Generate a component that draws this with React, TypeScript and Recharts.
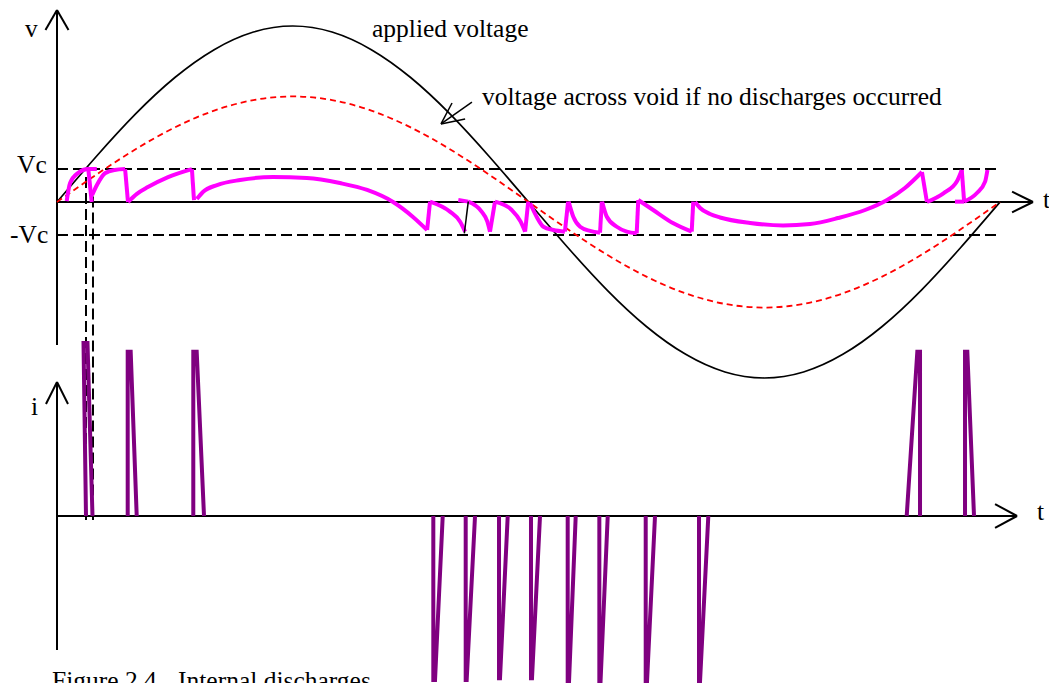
import { ComposedChart, Line, XAxis, YAxis, ReferenceLine } from 'recharts';

const W = 1049;
const H = 683;

// phase angle of the applied voltage, degrees
const PHASE = [0, 15, 30, 45, 60, 75, 90, 105, 120, 135, 150, 165, 180, 195, 210, 225, 240, 255, 270, 285, 300, 315, 330, 345, 360];
const APPLIED_V = [0, 25.0, 48.4, 68.4, 83.7, 93.4, 96.7, 93.4, 83.7, 68.4, 48.4, 25.0, 0, -25.0, -48.4, -68.4, -83.7, -93.4, -96.7, -93.4, -83.7, -68.4, -48.4, -25.0, 0];
const VOID_NO_DISCHARGE = [0, 15.0, 29.0, 41.0, 50.2, 56.0, 58.0, 56.0, 50.2, 41.0, 29.0, 15.0, 0, -15.0, -29.0, -41.0, -50.2, -56.0, -58.0, -56.0, -50.2, -41.0, -29.0, -15.0, 0];
const VC = 18.1;

// void voltage between discharges, [deg, v]
const VOID_ARCS = [
  [[3.7, 0.5], [5.0, 10.4], [8.0, 15.9], [11.8, 18.1], [15.2, 18.1]],
  [[13.4, 3.8], [15.3, 9.5], [18.3, 15.8], [22.0, 17.6], [26.0, 18.1]],
  [[27.1, 0], [30.5, 4.5], [34.7, 8.2], [42.4, 13.7], [51.5, 18.1]],
  [[53.4, 1.6], [55.7, 5.5], [61.1, 9.3], [69.9, 12.1], [82.5, 13.7], [95.4, 13.2], [108.0, 10.4], [118.4, 6.6], [128.3, 0], [135.9, -8.2], [141.3, -15.4]],
  [[142.4, 0.2], [150.0, -5.3], [153.9, -10.8], [155.8, -16.3]],
  [[157.0, 0.2], [162.1, -5.3], [164.3, -10.8], [165.3, -16.3]],
  [[167.2, 0.2], [173.6, -4.4], [177.0, -10.8], [178.7, -16.3]],
  [[180.6, -0.7], [183.1, -8.1], [185.7, -13.6], [189.5, -15.4], [193.9, -16.3]],
  [[195.3, 0.2], [197.1, -8.1], [199.7, -13.6], [203.5, -15.9], [207.3, -16.9]],
  [[208.1, 0.2], [209.9, -8.1], [213.7, -13.6], [217.5, -16.3], [221.3, -17.2]],
  [[221.9, 1.1], [227.6, -4.4], [235.3, -11.7], [242.3, -16.3]],
  [[243.6, 0], [245.5, -3.3], [249.3, -6.6], [253.1, -8.5], [264.6, -11.5], [277.2, -12.9], [287.5, -12.1], [298.2, -8.8], [308.5, -4.4], [316.9, 1.1], [323.7, 7.7], [330.2, 16.5]],
  [[332.1, 0], [338.4, 4.8], [343.5, 11.2], [345.4, 17.6]],
  [[346.3, 0.2], [351.1, 4.8], [354.3, 11.2], [355.2, 17.6]],
];
// discharge steps of the void voltage
const VOID_STEPS = [
  [[11.95, 18.1], [13.25, 0]],
  [[26.0, 18.1], [27.1, 0]],
  [[51.5, 18.1], [52.3, 1.0]],
  [[141.3, -15.4], [142.4, 0.2]],
  [[165.3, -16.3], [167.2, 0.2]],
  [[178.7, -16.3], [179.9, 0.2]],
  [[193.9, -16.3], [195.1, 0.2]],
  [[207.3, -16.9], [208.0, 0.2]],
  [[221.3, -17.2], [221.9, 1.1]],
  [[242.3, -16.3], [242.9, 0.2]],
  [[330.2, 16.5], [332.1, 0]],
  [[345.4, 17.6], [346.3, 0.2]],
  [[153.2, 1.1], [157.0, 0.2]],
  [[342.8, 0.2], [346.3, 0.2]],
];
const BLACK_STEP = [[155.5, -17.2], [157.0, 0.2]];

// discharge current pulses: [base start, peak start, peak end, base end, peak]
const PULSES = [
  [11.07, 10.12, 11.64, 13.55, 104.2],
  [26.99, 26.99, 28.13, 30.43, 99.0],
  [52.03, 52.03, 53.33, 56.12, 99.0],
  [143.66, 143.66, 144.31, 147.25, -98.8],
  [156.02, 156.02, 156.4, 159.58, -98.8],
  [168.74, 168.74, 169.12, 172.06, -97.8],
  [180.95, 180.95, 181.33, 184.39, -97.8],
  [194.96, 194.96, 195.46, 198.02, -100],
  [207.04, 207.04, 207.49, 210.24, -100],
  [224.74, 224.74, 225.23, 228.29, -100],
  [245.09, 245.09, 245.47, 248.64, -100],
  [324.38, 328.43, 329.46, 329.46, 99.0],
  [346.64, 346.64, 347.52, 350.07, 99.0],
];

// axes, arrows and guides, in data units of each panel
const V_LINES = [
  [[0, 105.5], [0, -78.6]],
  [[-4.4, 94.5], [0, 105.5]],
  [[4.4, 94.5], [0, 105.5]],
  [[0, 0], [372.6, 0]],
  [[364.6, 5.7], [372.6, 0]],
  [[364.6, -5.7], [372.6, 0]],
  [[146.6, 42.9], [158.4, 54.9]],
  [[146.6, 42.9], [150.8, 54.4]],
  [[146.6, 42.9], [155.8, 45.6]],
];
const I_LINES = [
  [[0, 80.7], [0, -80.7]],
  [[-4.2, 67.5], [0, 80.7]],
  [[4.2, 67.5], [0, 80.7]],
  [[0, 0], [366.5, 0]],
  [[358.1, 7.2], [366.5, 0]],
  [[358.1, -7.2], [366.5, 0]],
];
const DASHED_GUIDES = [
  [[0, VC], [360, VC]],
  [[0, -VC], [360, -VC]],
  [[11.07, 13.7], [11.07, -174.7]],
  [[13.74, 3.0], [13.74, -174.7]],
];

const LABELS = [
  { x: 25, y: 37, text: 'v' },
  { x: 372, y: 37, text: 'applied voltage' },
  { x: 482, y: 105, text: 'voltage across void if no discharges occurred' },
  { x: 17, y: 173, text: 'Vc' },
  { x: 10, y: 243, text: '-Vc' },
  { x: 1043, y: 208, text: 't' },
  { x: 31, y: 415, text: 'i' },
  { x: 1037, y: 520, text: 't' },
  { x: 52, y: 689, text: 'Figure 2.4' },
  { x: 178, y: 689, text: 'Internal discharges' },
];

const toPts = (arr: number[][]) => arr.map(([t, v]) => ({ t, v }));
const curveData = (vals: number[]) => PHASE.map((t, k) => ({ t, v: vals[k] }));

export default function App() {
  return (
    <div style={{ position: 'fixed', left: 0, top: 0, width: W, height: H, overflow: 'hidden', background: '#fff' }}>
      <ComposedChart width={W} height={H} margin={{ top: 0, right: 0, bottom: 0, left: 0 }}>
        <XAxis type="number" dataKey="t" domain={[-21.76, 378.7]} hide allowDataOverflow />
        <YAxis yAxisId="v" type="number" domain={[-264.29, 110.99]} hide allowDataOverflow />
        <YAxis yAxisId="i" type="number" domain={[-100.6, 310.84]} hide allowDataOverflow />

        {V_LINES.map((s, k) => (
          <ReferenceLine key={`va${k}`} yAxisId="v" segment={[{ x: s[0][0], y: s[0][1] }, { x: s[1][0], y: s[1][1] }]}
            stroke="#000" strokeWidth={k >= 6 ? 1.5 : 2} ifOverflow="visible" />
        ))}
        {I_LINES.map((s, k) => (
          <ReferenceLine key={`ia${k}`} yAxisId="i" segment={[{ x: s[0][0], y: s[0][1] }, { x: s[1][0], y: s[1][1] }]}
            stroke="#000" strokeWidth={2} ifOverflow="visible" />
        ))}
        {DASHED_GUIDES.map((s, k) => (
          <ReferenceLine key={`dg${k}`} yAxisId="v" segment={[{ x: s[0][0], y: s[0][1] }, { x: s[1][0], y: s[1][1] }]}
            stroke="#000" strokeWidth={2} strokeDasharray="11 5" ifOverflow="visible" />
        ))}

        <Line yAxisId="v" data={curveData(APPLIED_V)} dataKey="v" type="natural" stroke="#000" strokeWidth={1.7}
          dot={false} activeDot={false} isAnimationActive={false} />
        <Line yAxisId="v" data={curveData(VOID_NO_DISCHARGE)} dataKey="v" type="natural" stroke="#ff0000" strokeWidth={1.8}
          strokeDasharray="6 4" dot={false} activeDot={false} isAnimationActive={false} />

        {VOID_ARCS.map((arc, k) => (
          <Line key={`arc${k}`} yAxisId="v" data={toPts(arc)} dataKey="v" type="monotone" stroke="#ff00ff" strokeWidth={4}
            dot={false} activeDot={false} isAnimationActive={false} />
        ))}
        {VOID_STEPS.map((st, k) => (
          <Line key={`st${k}`} yAxisId="v" data={toPts(st)} dataKey="v" type="linear" stroke="#ff00ff" strokeWidth={4}
            dot={false} activeDot={false} isAnimationActive={false} />
        ))}
        <Line yAxisId="v" data={toPts(BLACK_STEP)} dataKey="v" type="linear" stroke="#000" strokeWidth={1.5}
          dot={false} activeDot={false} isAnimationActive={false} />

        {PULSES.map(([a, b, c, d, p], k) => (
          <Line key={`p${k}`} yAxisId="i" dataKey="v" type="linear" stroke="#800080" strokeWidth={4}
            data={[{ t: a, v: 0 }, { t: b, v: p }, { t: c, v: p }, { t: d, v: 0 }]}
            dot={false} activeDot={false} isAnimationActive={false} />
        ))}
      </ComposedChart>
      <svg width={W} height={H} style={{ position: 'absolute', left: 0, top: 0, pointerEvents: 'none' }}>
        {LABELS.map((l, k) => (
          <text key={k} x={l.x} y={l.y} fontFamily="'Liberation Serif', 'Times New Roman', serif" fontSize={25.5} fill="#000">
            {l.text}
          </text>
        ))}
      </svg>
    </div>
  );
}
